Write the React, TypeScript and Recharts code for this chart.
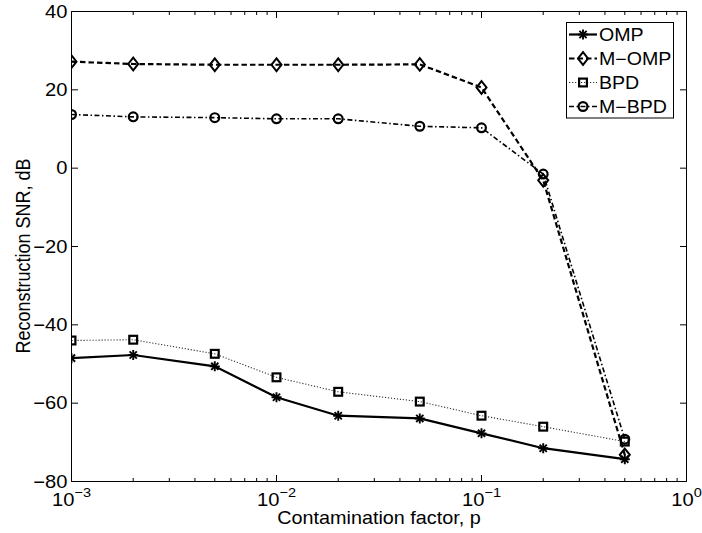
import React from 'react';
import { LineChart, Line, XAxis, YAxis, Legend, Label } from 'recharts';

// ---- data ----
const pValues = [0.001, 0.002, 0.005, 0.01, 0.02, 0.05, 0.1, 0.2, 0.5];
const ompSNR = [-48.5, -47.7, -50.6, -58.5, -63.2, -63.9, -67.7, -71.5, -74.3];
const mompSNR = [27.2, 26.6, 26.4, 26.4, 26.4, 26.5, 20.6, -3.1, -73.2];
const bpdSNR = [-44.0, -43.8, -47.4, -53.4, -57.1, -59.6, -63.2, -66.0, -69.8];
const mbpdSNR = [13.7, 13.1, 12.9, 12.6, 12.6, 10.7, 10.3, -1.5, -69.2];

const majorXTicks = [0.001, 0.01, 0.1, 1];
const xExponents = ['\u22123', '\u22122', '\u22121', '0'];
const allXTicks = [
  0.001, 0.002, 0.003, 0.004, 0.005, 0.006, 0.007, 0.008, 0.009,
  0.01, 0.02, 0.03, 0.04, 0.05, 0.06, 0.07, 0.08, 0.09,
  0.1, 0.2, 0.3, 0.4, 0.5, 0.6, 0.7, 0.8, 0.9, 1,
];
const yTicks = [-80, -60, -40, -20, 0, 20, 40];
const seriesNames = ['OMP', 'M\u2212OMP', 'BPD', 'M\u2212BPD'];
const xLabel = 'Contamination factor, p';
const yLabel = 'Reconstruction SNR, dB';

const data = pValues.map((p, i) => ({
  p,
  omp: ompSNR[i],
  momp: mompSNR[i],
  bpd: bpdSNR[i],
  mbpd: mbpdSNR[i],
}));

// ---- styles ----
const FONT = '"Liberation Sans", Arial, Helvetica, sans-serif';
const SX = 1.12;

type MarkerType = 'asterisk' | 'diamond' | 'square' | 'circle';
const seriesStyles: { key: string; marker: MarkerType; width: number; dash?: string; stroke: string }[] = [
  { key: 'omp', marker: 'asterisk', width: 2.2, stroke: '#000' },
  { key: 'momp', marker: 'diamond', width: 2.2, dash: '5.5 3', stroke: '#000' },
  { key: 'bpd', marker: 'square', width: 1.1, dash: '1.2 1.8', stroke: '#333' },
  { key: 'mbpd', marker: 'circle', width: 1.6, dash: '5 2.5 1.5 2.5', stroke: '#000' },
];

function Marker({ type, cx, cy }: { type: MarkerType; cx: number; cy: number }) {
  if (cx == null || cy == null) return null;
  switch (type) {
    case 'asterisk': {
      const r = 5;
      const d = r * 0.72;
      return (
        <g stroke="#000" strokeWidth={1.9} strokeLinecap="butt">
          <line x1={cx - r} y1={cy} x2={cx + r} y2={cy} />
          <line x1={cx} y1={cy - r} x2={cx} y2={cy + r} />
          <line x1={cx - d} y1={cy - d} x2={cx + d} y2={cy + d} />
          <line x1={cx - d} y1={cy + d} x2={cx + d} y2={cy - d} />
        </g>
      );
    }
    case 'diamond':
      return (
        <polygon
          points={`${cx},${cy - 6.3} ${cx + 5},${cy} ${cx},${cy + 6.3} ${cx - 5},${cy}`}
          fill="none"
          stroke="#000"
          strokeWidth={2}
        />
      );
    case 'square':
      return (
        <rect x={cx - 3.9} y={cy - 3.9} width={7.8} height={7.8} fill="none" stroke="#000" strokeWidth={2.2} />
      );
    case 'circle':
    default:
      return <circle cx={cx} cy={cy} r={4.4} fill="none" stroke="#000" strokeWidth={2.2} />;
  }
}

function fmtY(v: number) {
  return v < 0 ? '\u2212' + Math.abs(v) : String(v);
}

const BottomTick = (props: any) => {
  const { x, y, payload } = props;
  const v = payload.value;
  const idx = majorXTicks.indexOf(v);
  const major = idx >= 0;
  return (
    <g>
      <line x1={x} y1={y} x2={x} y2={y - (major ? 6.5 : 3.5)} stroke="#000" strokeWidth={1} />
      {major && (
        <g transform={`translate(${x},${y + 24}) scale(${SX},1)`}>
          <text x={0} y={0} textAnchor="middle" fontFamily={FONT} fontSize={18} fill="#000">
            <tspan>10</tspan>
            <tspan dy={-8.5} fontSize={13}>{xExponents[idx]}</tspan>
          </text>
        </g>
      )}
    </g>
  );
};

const TopTick = (props: any) => {
  const { x, y, payload } = props;
  const major = majorXTicks.indexOf(payload.value) >= 0;
  return <line x1={x} y1={y} x2={x} y2={y + (major ? 6.5 : 3.5)} stroke="#000" strokeWidth={1} />;
};

const LeftTick = (props: any) => {
  const { x, y, payload } = props;
  return (
    <g>
      <line x1={x} y1={y} x2={x + 6.5} y2={y} stroke="#000" strokeWidth={1} />
      <g transform={`translate(${x - 4},${y + 6.3}) scale(${SX},1)`}>
        <text x={0} y={0} textAnchor="end" fontFamily={FONT} fontSize={18} fill="#000">
          {fmtY(payload.value)}
        </text>
      </g>
    </g>
  );
};

const RightTick = (props: any) => {
  const { x, y } = props;
  return <line x1={x} y1={y} x2={x - 6.5} y2={y} stroke="#000" strokeWidth={1} />;
};

const renderXLabel = () => (
  <g transform={`translate(379,524) scale(1.1,1)`}>
    <text x={0} y={0} textAnchor="middle" fontFamily={FONT} fontSize={18} fill="#000">
      {xLabel}
    </text>
  </g>
);

const renderYLabel = () => (
  <g transform={`translate(29.5,256) scale(1.1,1) rotate(-90)`}>
    <text x={0} y={0} textAnchor="middle" fontFamily={FONT} fontSize={18} fill="#000">
      {yLabel}
    </text>
  </g>
);

const renderLegend = () => (
  <svg width={109} height={98} style={{ display: 'block', overflow: 'visible' }}>
    <rect x={0.5} y={0.5} width={107} height={95.5} fill="#fff" stroke="#000" strokeWidth={1} />
    {seriesNames.map((name, i) => {
      const cy = 12.5 + i * 24;
      const s = seriesStyles[i];
      return (
        <g key={name}>
          <line
            x1={3}
            y1={cy}
            x2={31}
            y2={cy}
            stroke={s.stroke}
            strokeWidth={s.width}
            strokeDasharray={s.dash}
          />
          <Marker type={s.marker} cx={17} cy={cy} />
          <g transform={`translate(33,${cy + 6.3}) scale(${SX},1)`}>
            <text x={0} y={0} fontFamily={FONT} fontSize={17.5} fill="#000">
              {name}
            </text>
          </g>
        </g>
      );
    })}
  </svg>
);

export default function App() {
  return (
    <div style={{ position: 'absolute', left: 0, top: 0, width: 702, height: 533, background: '#fff' }}>
      <LineChart
        width={702}
        height={533}
        data={data}
        margin={{ top: 1.5, right: 5.5, bottom: 0, left: 0 }}
      >
        <XAxis
          xAxisId="bottom"
          dataKey="p"
          type="number"
          scale="log"
          domain={[0.001, 1]}
          ticks={allXTicks}
          interval={0}
          orientation="bottom"
          height={51.5}
          tickSize={0}
          tickMargin={0}
          tickLine={false}
          axisLine={{ stroke: '#000', strokeWidth: 1 }}
          tick={<BottomTick />}
          allowDataOverflow
        >
          <Label content={renderXLabel} />
        </XAxis>
        <XAxis
          xAxisId="top"
          dataKey="p"
          type="number"
          scale="log"
          domain={[0.001, 1]}
          ticks={allXTicks}
          interval={0}
          orientation="top"
          height={10}
          tickSize={0}
          tickMargin={0}
          tickLine={false}
          axisLine={{ stroke: '#000', strokeWidth: 1 }}
          tick={<TopTick />}
          allowDataOverflow
        />
        <YAxis
          yAxisId="left"
          type="number"
          domain={[-80, 40]}
          ticks={yTicks}
          interval={0}
          orientation="left"
          width={71.5}
          tickSize={0}
          tickMargin={0}
          tickLine={false}
          axisLine={{ stroke: '#000', strokeWidth: 1 }}
          tick={<LeftTick />}
          allowDataOverflow
        >
          <Label content={renderYLabel} />
        </YAxis>
        <YAxis
          yAxisId="right"
          type="number"
          domain={[-80, 40]}
          ticks={yTicks}
          interval={0}
          orientation="right"
          width={10}
          tickSize={0}
          tickMargin={0}
          tickLine={false}
          axisLine={{ stroke: '#000', strokeWidth: 1 }}
          tick={<RightTick />}
          allowDataOverflow
        />
        {seriesStyles.map((s, i) => (
          <Line
            key={s.key}
            xAxisId="bottom"
            yAxisId="left"
            type="linear"
            dataKey={s.key}
            name={seriesNames[i]}
            stroke={s.stroke}
            strokeWidth={s.width}
            strokeDasharray={s.dash}
            isAnimationActive={false}
            activeDot={false}
            dot={(p: any) => <Marker key={`${s.key}-${p.index}`} type={s.marker} cx={p.cx} cy={p.cy} />}
          />
        ))}
        <Legend
          layout="vertical"
          align="center"
          verticalAlign="middle"
          content={renderLegend}
          wrapperStyle={{ position: 'absolute', left: 566, top: 21.5, width: 109, height: 98, margin: 0, padding: 0 }}
        />
      </LineChart>
    </div>
  );
}
